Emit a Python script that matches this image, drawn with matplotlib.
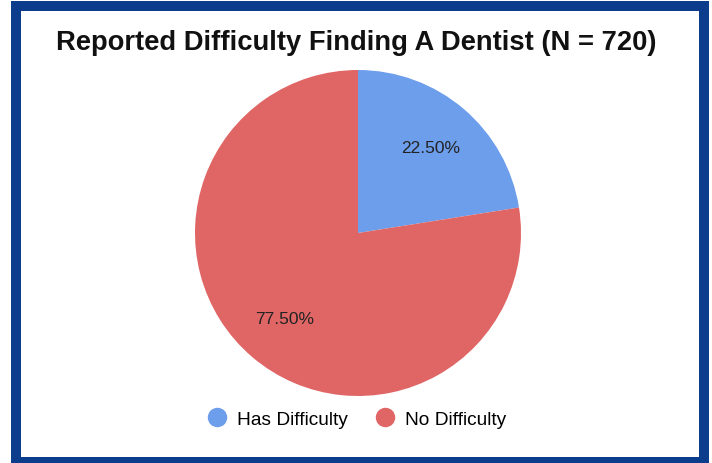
import matplotlib
matplotlib.use('Agg')
import matplotlib.pyplot as plt
from matplotlib.patches import Rectangle
from matplotlib.lines import Line2D

labels = ['Has Difficulty', 'No Difficulty']
shares = [22.5, 77.5]
colors = ['#6d9eeb', '#e06666']
title = 'Reported Difficulty Finding A Dentist (N = 720)'

plt.rcParams['font.family'] = ['Liberation Sans', 'DejaVu Sans']

W, H = 712, 464
fig = plt.figure(figsize=(W / 100, H / 100), dpi=100)
fig.patch.set_facecolor('white')

# dark blue frame around the card
frame = Rectangle((16 / W, 1 - 463 / H), (704.5 - 16) / W, (463 - 7) / H,
                  transform=fig.transFigure, fill=False,
                  edgecolor='#0b3d8c', linewidth=7.2, joinstyle='miter')
fig.patches.append(frame)

fig.text(356 / W, 1 - 43 / H, title, ha='center', va='center',
         fontsize=19.7, fontweight='bold', color='#111111')

# pie centred at (358, 234) px, radius 163 px
cx, cy, r = 358, 234, 163
ax = fig.add_axes([(cx - r) / W, (H - cy - r) / H, 2 * r / W, 2 * r / H])
wedges, texts, autotexts = ax.pie(
    shares, colors=colors, startangle=90, counterclock=False,
    autopct='%.2f%%', pctdistance=0.69, radius=1,
    textprops={'fontsize': 12.5, 'color': '#222222'})
ax.set_xlim(-1, 1)
ax.set_ylim(-1, 1)
ax.set_aspect('equal')
ax.axis('off')

handles = [Line2D([], [], marker='o', linestyle='', markersize=13,
                  markerfacecolor=c, markeredgecolor=c) for c in colors]
fig.legend(handles, labels, loc='center', bbox_to_anchor=(356 / W, 1 - 420 / H),
           ncol=2, frameon=False, fontsize=13.8, handletextpad=0.45,
           columnspacing=1.3, handlelength=1.2)

fig.savefig('out.png', dpi=100)
